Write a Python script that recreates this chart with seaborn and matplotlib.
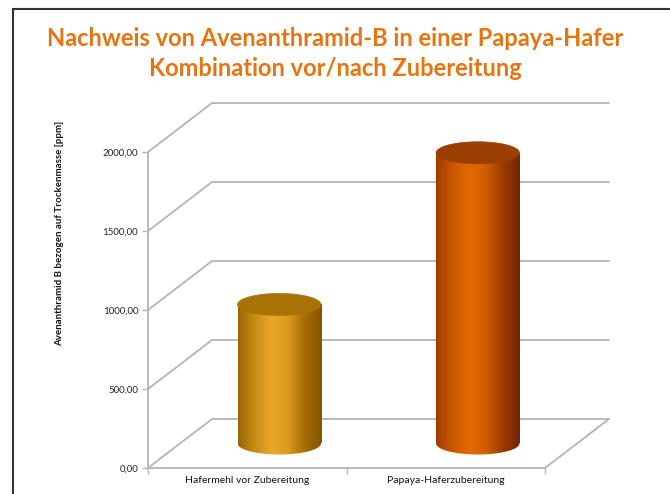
import numpy as np
import seaborn as sns
import matplotlib.pyplot as plt
from matplotlib.patches import Ellipse, Rectangle
from matplotlib.transforms import Affine2D
from matplotlib.colors import LinearSegmentedColormap

# data
categories = ["Hafermehl vor Zubereitung", "Papaya-Haferzubereitung"]
values = [880, 1840]
yticks = [0, 500, 1000, 1500, 2000]
ytick_labels = ["0,00", "500,00", "1000,00", "1500,00", "2000,00"]
title_lines = ["Nachweis von Avenanthramid-B in einer Papaya-Hafer",
               "Kombination vor/nach Zubereitung"]
ylabel = "Avenanthramid B bezogen auf Trockenmasse [ppm]"

bar_colors = ["#dc9a1e", "#d96200"]
body_ramps = [["#9a6404", "#c98d14", "#e9a82c", "#d99a1e", "#a56c04", "#845400"],
              ["#a03c00", "#cc5600", "#e26c00", "#d05e00", "#9c3a00", "#6e2600"]]
cap_colors = ["#a87204", "#9a3e02"]
title_color = "#e8730f"
grid_color = "#b4b4b4"

sns.set_style("white")
plt.rcParams['font.family'] = ['Lato', 'DejaVu Sans']

fig = plt.figure(figsize=(6.7, 4.94), dpi=100)
ax = fig.add_axes([148 / 670, 26 / 494, 397 / 670, 316 / 494])

sns.barplot(x=categories, y=values, hue=categories, palette=bar_colors,
            width=0.42, legend=False, ax=ax, zorder=3)

xmin, xmax, ymax = -0.5, 1.5, 2000
ax.set_xlim(xmin, xmax)
ax.set_ylim(0, ymax)

# depth of the fake 3d box, in data units
ddx = 64 / (397 / (xmax - xmin))
ddy = 49 / (316 / ymax)
ell_h = 22 / (316 / ymax)

# back wall grid + floor
for v in yticks:
    ax.plot([xmin, xmin + ddx, xmax + ddx], [v, v + ddy, v + ddy],
            color=grid_color, lw=1.3, clip_on=False, zorder=1)
ax.plot([xmax, xmax + ddx], [0, ddy], color=grid_color, lw=1.3, clip_on=False, zorder=1)

# cylinders, drawn half way into the depth
shift = Affine2D().translate(ddx / 2, ddy / 2) + ax.transData
grad = np.linspace(0, 1, 256).reshape(1, -1)
for patch, ramp, cap in zip(ax.patches, body_ramps, cap_colors):
    x0, w, h = patch.get_x(), patch.get_width(), patch.get_height()
    patch.set_visible(False)
    cmap = LinearSegmentedColormap.from_list("cyl", ramp)
    body = Rectangle((x0, 0), w, h, transform=shift)
    base = Ellipse((x0 + w / 2, 0), w, ell_h, transform=shift)
    for clip, ext in [(body, (x0, x0 + w, 0, h)), (base, (x0, x0 + w, -ell_h, 0))]:
        im = ax.imshow(grad, extent=ext, aspect='auto', cmap=cmap,
                       transform=shift, zorder=3, interpolation='bilinear')
        im.set_clip_box(None)
        im.set_clip_path(clip)
    ax.add_patch(Ellipse((x0 + w / 2, h), w, ell_h, facecolor=cap, edgecolor=cap,
                         lw=0.5, transform=shift, clip_on=False, zorder=4))

ax.set_xlim(xmin, xmax)
ax.set_ylim(0, ymax)

sns.despine(ax=ax, top=True, right=True)
for s in ["left", "bottom"]:
    ax.spines[s].set_color(grid_color)
    ax.spines[s].set_linewidth(1.3)

ax.set_yticks(yticks)
ax.set_yticklabels(ytick_labels, fontsize=7, color="#222222")
ax.tick_params(axis='y', length=4, width=1, color=grid_color, pad=3, left=True)
ax.set_xticks([0, 1])
ax.set_xticklabels(categories, fontsize=7.5, color="#111111")
ax.set_xticks([xmin, 0.5, xmax], minor=True)
ax.tick_params(axis='x', which='major', length=0, pad=6)
ax.tick_params(axis='x', which='minor', length=4, width=1, color=grid_color, bottom=True)
ax.set_xlabel("")
ax.set_ylabel("")

fig.text(60 / 670, 1 - 233 / 494, ylabel, rotation=90, ha='center', va='center',
         fontsize=7, fontweight='bold', color="#111111")

fig.text(0.5, 1 - 38 / 494, title_lines[0], ha='center', va='center',
         fontsize=17, fontweight='bold', color=title_color)
fig.text(0.5, 1 - 68 / 494, title_lines[1], ha='center', va='center',
         fontsize=17, fontweight='bold', color=title_color)

# outer frame
fig.patches.append(Rectangle((13 / 670, -0.1), 1.2, 1 - 9 / 494 + 0.1, transform=fig.transFigure,
                             fill=False, edgecolor="#333333", lw=1.5))

fig.savefig("out.png", dpi=100)
